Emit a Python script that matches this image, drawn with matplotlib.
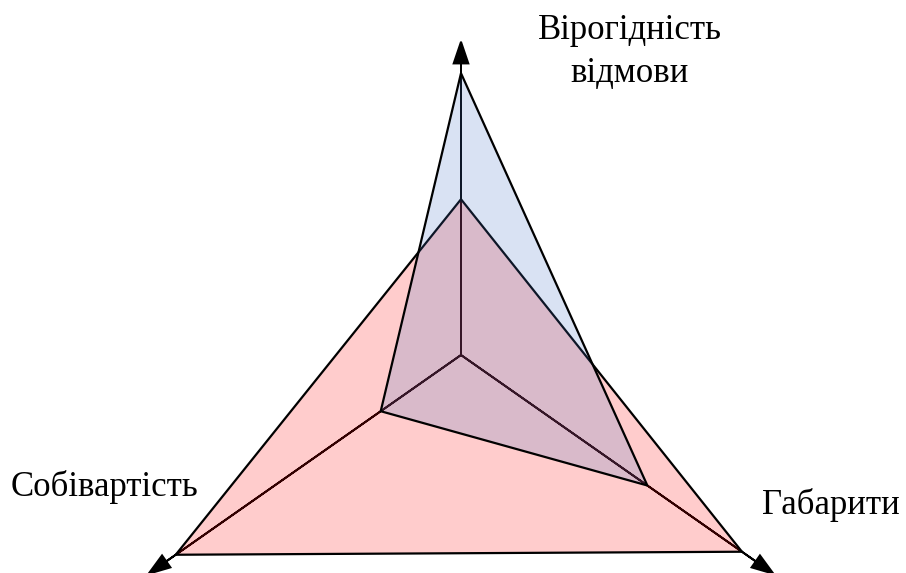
import numpy as np
from matplotlib import pyplot as plt

# categories and values (relative units)
categories = ['Вірогідність\nвідмови', 'Габарити', 'Собівартість']
angles_deg = [90, -35, 215]
blue_vals = [8.05, 6.5, 2.8]
red_vals = [4.45, 9.8, 9.95]
axis_len = [8.95, 10.9, 10.9]

plt.rcParams['font.family'] = ['Liberation Serif', 'DejaVu Serif']

fig = plt.figure(figsize=(9.06, 5.73), dpi=100)
ax = fig.add_axes([0, 0, 1, 1])
scale = 35.0  # px per unit
ax.set_xlim(-461 / scale, (906 - 461) / scale)
ax.set_ylim(-(573 - 355) / scale, 355 / scale)
ax.axis('off')

ang = np.radians(angles_deg)

def to_xy(vals):
    vals = np.asarray(vals)
    return vals * np.cos(ang), vals * np.sin(ang)

# axes with arrows
ax_x, ax_y = to_xy(axis_len)
for dx, dy in zip(ax_x, ax_y):
    ax.arrow(0, 0, dx, dy, width=0, head_width=0.42, head_length=0.62,
             length_includes_head=True, fc='black', ec='black', lw=1.4, zorder=1)

# filled polygons
rx, ry = to_xy(red_vals)
bx, by = to_xy(blue_vals)
ax.fill(rx, ry, fc=(1, 0, 0, 0.2), ec='black', lw=1.6, zorder=2)
ax.fill(bx, by, fc=(68/255, 114/255, 196/255, 0.2), ec='black', lw=1.6, zorder=3)

# labels
W, H = 906, 573
fig.text(630 / W, 1 - 39 / H, categories[0].split('\n')[0], ha='center', va='baseline', fontsize=25)
fig.text(630 / W, 1 - 82 / H, categories[0].split('\n')[1], ha='center', va='baseline', fontsize=25)
fig.text(831 / W, 1 - 514 / H, categories[1], ha='center', va='baseline', fontsize=25)
fig.text(105 / W, 1 - 496 / H, categories[2], ha='center', va='baseline', fontsize=25)

fig.savefig('out.png', dpi=100)
